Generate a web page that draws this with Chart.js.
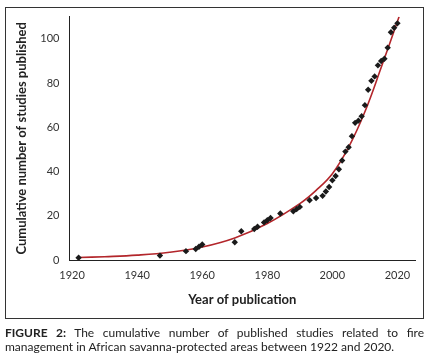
<!DOCTYPE html>
<html>
<head>
<meta charset="utf-8">
<script src="https://cdn.jsdelivr.net/npm/chart.js@4.4.1/dist/chart.umd.min.js"></script>
<style>
  html, body { margin: 0; padding: 0; background: #fff; }
  #wrap { position: relative; width: 429px; height: 354px; overflow: hidden; font-family: Lato, sans-serif; }
  #chart { position: absolute; left: 0; top: 0; }
  #frame { position: absolute; left: 5px; top: 7px; width: 419px; height: 312px; border: 1px solid #333; box-sizing: border-box; pointer-events: none; }
  .cap { position: absolute; left: 5px; width: 419px; font-size: 12px; color: #222; line-height: 14px; white-space: nowrap; }
  #cap1 { top: 326px; text-align: justify; text-align-last: justify; white-space: normal; }
  #cap2 { top: 340px; }
  b { font-weight: bold; }
</style>
</head>
<body>
<div id="wrap">
  <canvas id="chart" width="429" height="320"></canvas>
  <div id="frame"></div>
  <div class="cap" id="cap1"><b>FIGURE 2:</b> The cumulative number of published studies related to fire</div>
  <div class="cap" id="cap2">management in African savanna-protected areas between 1922 and 2020.</div>
</div>
<script>
"use strict"

// Jahr der Veröffentlichung und kumulierte Anzahl Studien
const years = [1922, 1947, 1955, 1958, 1959, 1960, 1970, 1972, 1976, 1977, 1979, 1980, 1981, 1984,
    1988, 1989, 1990, 1993, 1995, 1997, 1998, 1999, 2000, 2001, 2002, 2003, 2004, 2005, 2006,
    2007, 2008, 2009, 2010, 2011, 2012, 2013, 2014, 2015, 2016, 2017, 2018, 2019, 2020];
const counts = [1, 2, 4, 5, 6, 7, 8, 13, 14, 15, 17, 18, 19, 21,
    22, 23, 24, 27, 28, 29, 31, 33, 36, 38, 41, 45, 49, 51, 56,
    62, 63, 65, 70, 77, 81, 83, 88, 90, 91, 96, 103, 105, 107];

// Trendlinie
const trendYears = [1922, 1930, 1940, 1950, 1960, 1970, 1980, 1990, 1995, 2000, 2005, 2010, 2015, 2020.5];
const trendValues = [1.1, 1.5, 2.2, 3.5, 5.9, 10, 16.5, 25.5, 31.5, 39, 51, 67, 87, 110];

const xTicks = [1920, 1940, 1960, 1980, 2000, 2020];
const yTicks = [0, 20, 40, 60, 80, 100];

const ctx = document.getElementById('chart').getContext('2d');

new Chart(ctx, {
    type: 'scatter',
    data: {
        datasets: [{
            label: 'Trend',
            type: 'line',
            data: trendYears.map((x, i) => ({ x: x, y: trendValues[i] })),
            borderColor: '#b3262b',
            borderWidth: 1.6,
            pointRadius: 0,
            fill: false,
            tension: 0.4,
            order: 2
        }, {
            label: 'Studies',
            data: years.map((x, i) => ({ x: x, y: counts[i] })),
            pointStyle: 'rectRot',
            pointRadius: 3.2,
            pointBackgroundColor: '#1a1a1a',
            pointBorderColor: '#1a1a1a',
            pointBorderWidth: 0,
            order: 1
        }]
    },
    options: {
        responsive: false,
        animation: false,
        layout: { padding: { top: 16.7, right: 14, bottom: 0, left: 0 } },
        plugins: {
            legend: { display: false },
            tooltip: { enabled: false }
        },
        scales: {
            x: {
                type: 'linear',
                min: 1919.2,
                max: 2025.4,
                afterBuildTicks: scale => { scale.ticks = xTicks.map(v => ({ value: v })); },
                afterFit: scale => { scale.height = 60; },
                grid: { display: false, drawOnChartArea: false, drawTicks: true, tickLength: 6, tickColor: '#222' },
                border: { color: '#222', width: 1 },
                ticks: {
                    color: '#333',
                    font: { family: 'Lato', size: 11 },
                    padding: 3,
                    callback: v => String(v)
                },
                title: {
                    display: true,
                    text: 'Year of publication',
                    color: '#222',
                    font: { family: 'Lato', size: 13, weight: 'bold' },
                    padding: { top: 0, bottom: 12.2 }
                }
            },
            y: {
                min: 0,
                max: 110,
                afterBuildTicks: scale => { scale.ticks = yTicks.map(v => ({ value: v })); },
                afterFit: scale => { scale.width = 69.5; },
                grid: { display: false, drawOnChartArea: false, drawTicks: true, tickLength: 6, tickColor: '#222' },
                border: { color: '#222', width: 1 },
                ticks: {
                    color: '#333',
                    font: { family: 'Lato', size: 11 },
                    padding: 4
                },
                title: {
                    display: true,
                    text: 'Cumulative number of studies published',
                    color: '#222',
                    font: { family: 'Lato', size: 13, weight: 'bold' },
                    padding: { top: 14.2, bottom: 0 }
                }
            }
        }
    }
});
</script>
</body>
</html>
